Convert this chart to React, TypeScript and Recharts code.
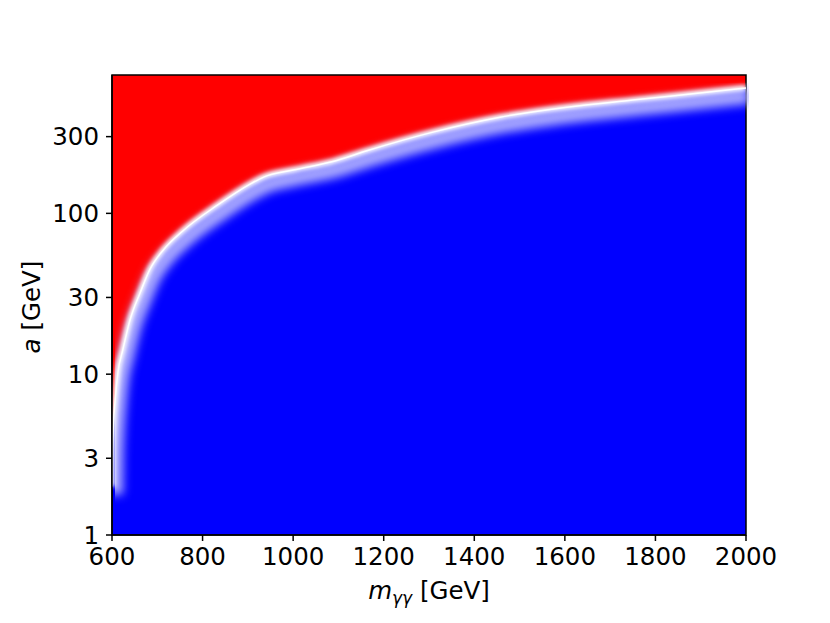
import { Area, ComposedChart, Line, ReferenceArea, XAxis, YAxis } from "recharts";

// exclusion boundary: above it red, below it blue
const massGeV = [600, 601, 603, 607, 613, 624, 640, 662, 684, 713, 757, 832, 905, 935, 1000, 1088, 1163, 1309, 1457, 1605, 1750, 1898, 2000];
const boundaryGeV = [2.0, 3.4, 4.8, 6.9, 10.2, 14.2, 21.8, 32, 45, 59, 78, 112, 152, 168, 186, 210, 245, 320, 396, 457, 506, 560, 601];

const X_TICKS = [600, 800, 1000, 1200, 1400, 1600, 1800, 2000];
const Y_TICKS = [1, 3, 10, 30, 100, 300];
const Y_TOP = 725;

const FONT = "'DejaVu Sans', sans-serif";
const RED = "#ff0000";
const BLUE = "#0000ff";

const data = massGeV.map((m, i) => ({ m, a: boundaryGeV[i], band: [1, boundaryGeV[i]] }));

const tickStyle = { fontSize: 24.5, fill: "#000", fontFamily: FONT };

export default function App() {
  return (
    <div style={{ position: "absolute", left: 0, top: 0, width: 830, height: 623, fontFamily: FONT }}>
      <ComposedChart
        width={830}
        height={623}
        data={data}
        margin={{ top: 75, right: 84, bottom: 28, left: 52 }}
      >
        <defs>
          <filter id="glowWide" x="-10%" y="-10%" width="120%" height="120%">
            <feGaussianBlur stdDeviation="5" />
          </filter>
          <filter id="glowSoft" x="-10%" y="-10%" width="120%" height="120%">
            <feGaussianBlur stdDeviation="2" />
          </filter>
        </defs>
        <XAxis
          dataKey="m"
          type="number"
          domain={[600, 2000]}
          ticks={X_TICKS}
          allowDataOverflow
          height={60}
          tick={tickStyle}
          tickSize={6}
          tickMargin={7}
          stroke="#000"
          strokeWidth={1.5}
        />
        <YAxis
          scale="log"
          type="number"
          domain={[1, Y_TOP]}
          ticks={Y_TICKS}
          allowDataOverflow
          width={60}
          tick={tickStyle}
          tickSize={6}
          tickMargin={7}
          stroke="#000"
          strokeWidth={1.5}
        />
        <ReferenceArea x1={600} x2={2000} y1={1} y2={Y_TOP} fill={RED} fillOpacity={1} stroke="none" />
        <Area
          dataKey="band"
          type="monotone"
          fill={BLUE}
          fillOpacity={1}
          stroke="none"
          isAnimationActive={false}
        />
        <Line
          dataKey="a"
          type="monotone"
          stroke="#a8a8ff"
          strokeWidth={16}
          dot={false}
          isAnimationActive={false}
          style={{ filter: "url(#glowWide)", transform: "translate(3px, 8px)" }}
        />
        <Line
          dataKey="a"
          type="monotone"
          stroke="#ffffff"
          strokeWidth={6}
          dot={false}
          isAnimationActive={false}
          style={{ filter: "url(#glowSoft)" }}
        />
        <Line
          dataKey="a"
          type="monotone"
          stroke="#ffffff"
          strokeWidth={1.5}
          dot={false}
          isAnimationActive={false}
        />
        <ReferenceArea x1={600} x2={2000} y1={1} y2={Y_TOP} fill="none" stroke="#000" strokeWidth={1.5} />
      </ComposedChart>

      <div
        style={{
          position: "absolute",
          left: 31,
          top: 307,
          transform: "translate(-50%, -50%) rotate(-90deg)",
          fontSize: 24.5,
          whiteSpace: "nowrap",
        }}
      >
        <i>a</i> [GeV]
      </div>
      <div
        style={{
          position: "absolute",
          left: 429,
          top: 592,
          transform: "translate(-50%, -50%)",
          fontSize: 24.5,
          whiteSpace: "nowrap",
        }}
      >
        <i>m</i>
        <sub style={{ fontSize: 17, fontStyle: "italic" }}>γγ</sub> [GeV]
      </div>
    </div>
  );
}
